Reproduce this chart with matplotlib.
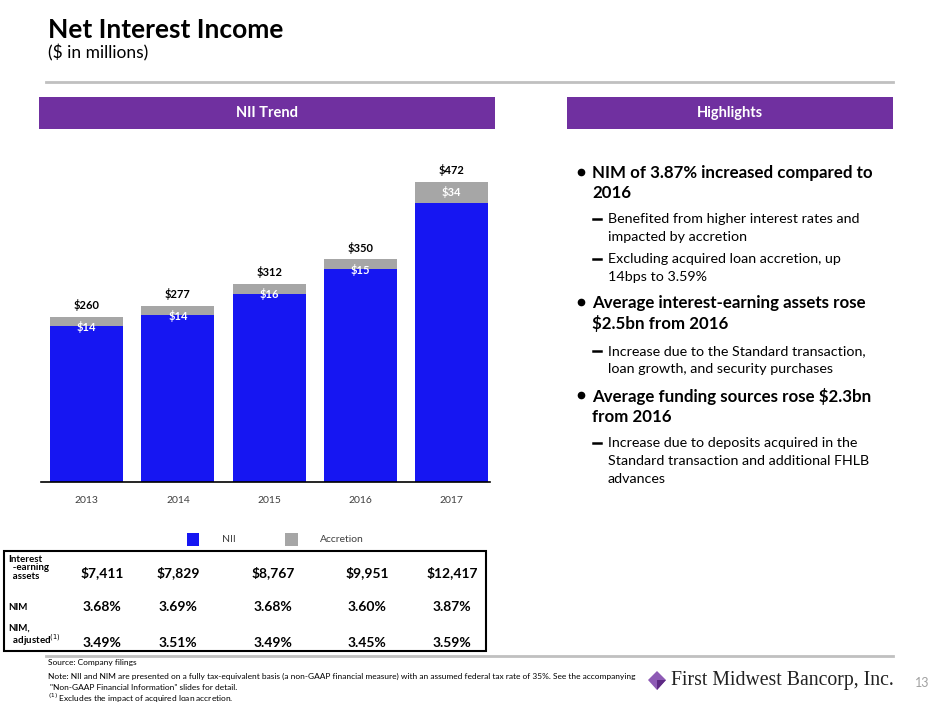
import matplotlib.pyplot as plt
from matplotlib.patches import Rectangle, Polygon
from matplotlib.lines import Line2D

plt.rcParams['font.family'] = ['Lato', 'DejaVu Sans']

# Data
years = ['2013', '2014', '2015', '2016', '2017']
accretion = [14, 14, 16, 15, 34]
totals = [260, 277, 312, 350, 472]
nii = [t - a for t, a in zip(totals, accretion)]

row_labels = ['Interest\n  -earning\n  assets', 'NIM', 'NIM,\n  adjusted$^{(1)}$']
earning_assets = ['$7,411', '$7,829', '$8,767', '$9,951', '$12,417']
nim = ['3.68%', '3.69%', '3.68%', '3.60%', '3.87%']
nim_adjusted = ['3.49%', '3.51%', '3.49%', '3.45%', '3.59%']

W, H = 940, 705
purple = '#7030A0'
blue = '#1616F2'
grey = '#A6A6A6'

fig = plt.figure(figsize=(W / 100, H / 100), dpi=100)


def fx(x):
    return x / W


def fy(y):
    return 1 - y / H


def hline(x0, x1, y, color, lw):
    fig.add_artist(Line2D([fx(x0), fx(x1)], [fy(y), fy(y)], color=color, lw=lw,
                          transform=fig.transFigure))


def box(x0, y0, x1, y1, **kw):
    fig.add_artist(Rectangle((fx(x0), fy(y1)), fx(x1) - fx(x0), fy(y0) - fy(y1),
                             transform=fig.transFigure, **kw))


# Header
fig.text(fx(48), fy(30), 'Net Interest Income', fontsize=19, fontweight='bold', va='center')
fig.text(fx(48), fy(53), '($ in millions)', fontsize=12.5, va='center')
hline(46, 893, 82, '#C0C0C0', 2)

box(39, 97, 495, 129, facecolor=purple, edgecolor='none')
fig.text(fx(267), fy(113), 'NII Trend', color='white', fontsize=10.5, fontweight='bold',
         ha='center', va='center')
box(567, 97, 893, 129, facecolor=purple, edgecolor='none')
fig.text(fx(730), fy(113), 'Highlights', color='white', fontsize=10.5, fontweight='bold',
         ha='center', va='center')

# Bar chart
ax = fig.add_axes([fx(41), fy(482), fx(490) - fx(41), fy(150) - fy(482)])
x = range(len(years))
ax.bar(x, nii, width=0.8, color=blue)
ax.bar(x, accretion, bottom=nii, width=0.8, color=grey)
ax.set_xlim(-0.5, 4.42)
ax.set_ylim(0, 522)
for i in x:
    ax.annotate('$' + str(totals[i]), (i, totals[i]), xytext=(0, 4), textcoords='offset points',
                ha='center', va='bottom', fontsize=8, fontweight='bold')
    ax.annotate('$' + str(accretion[i]), (i, totals[i]), xytext=(0, -7.5), textcoords='offset points',
                ha='center', va='center', fontsize=8, fontweight='bold', color='white')
ax.set_xticks(list(x))
ax.set_xticklabels(years, fontsize=7.5, color='#404040')
ax.tick_params(length=0, pad=10)
ax.set_yticks([])
for s in ['top', 'left', 'right']:
    ax.spines[s].set_visible(False)
ax.spines['bottom'].set_linewidth(1.2)

# Legend
box(187, 533, 199, 546, facecolor=blue, edgecolor='none')
fig.text(fx(222), fy(540), 'NII', fontsize=7.5, va='center', color='#404040')
box(285, 533, 298, 546, facecolor=grey, edgecolor='none')
fig.text(fx(320), fy(540), 'Accretion', fontsize=7.5, va='center', color='#404040')

# Table
hline(46, 893, 656, '#C0C0C0', 2)
box(4, 551, 486, 651, facecolor='white', edgecolor='black', lw=1.5)
col_x = [102, 178, 273, 367, 452]
row_y = [573, 607, 643]
label_y = [568, 607, 636]
for lbl, ly in zip(row_labels, label_y):
    fig.text(fx(8), fy(ly), lbl, fontsize=7, fontweight='bold', va='center', linespacing=0.95)
for vals, ry in zip([earning_assets, nim, nim_adjusted], row_y):
    for v, cx in zip(vals, col_x):
        fig.text(fx(cx), fy(ry), v, fontsize=10, fontweight='bold', ha='center', va='center')

# Highlights
bullets = [
    (172, 'NIM of 3.87% increased compared to\n2016', [
        (219, 'Benefited from higher interest rates and\nimpacted by accretion'),
        (259, 'Excluding acquired loan accretion, up\n14bps to 3.59%')]),
    (302, 'Average interest-earning assets rose\n$2.5bn from 2016', [
        (351, 'Increase due to the Standard transaction,\nloan growth, and security purchases')]),
    (395, 'Average funding sources rose $2.3bn\nfrom 2016', [
        (443, 'Increase due to deposits acquired in the\nStandard transaction and additional FHLB\nadvances')]),
]
for by, btxt, subs in bullets:
    fig.add_artist(Line2D([fx(581)], [fy(by)], marker='o', markersize=4.5, color='black',
                          transform=fig.transFigure))
    fig.text(fx(592), fy(by - 7), btxt, fontsize=12.2, fontweight='bold', va='top', linespacing=1.32)
    for sy, stxt in subs:
        hline(593, 601, sy, 'black', 1.8)
        fig.text(fx(608), fy(sy - 6), stxt, fontsize=10.3, va='top', linespacing=1.6)

# Footer
fig.text(fx(48), fy(663), 'Source: Company filings', fontsize=6, va='center')
fig.text(fx(48), fy(676), 'Note: NII and NIM are presented on a fully tax-equivalent basis (a non-GAAP financial '
         'measure) with an assumed federal tax rate of 35%. See the accompanying', fontsize=6, va='center')
fig.text(fx(50), fy(687), '"Non-GAAP Financial Information" slides for detail.', fontsize=6, va='center')
fig.text(fx(48), fy(698), '$^{(1)}$ Excludes the impact of acquired loan accretion.', fontsize=6, va='center')

# Logo
fig.add_artist(Polygon([(fx(657), fy(671)), (fx(666), fy(680)), (fx(657), fy(690)), (fx(648), fy(680))],
                       closed=True, transform=fig.transFigure, facecolor='#8E5BB5', edgecolor='none'))
fig.add_artist(Polygon([(fx(657), fy(680)), (fx(666), fy(680)), (fx(657), fy(690))],
                       closed=True, transform=fig.transFigure, facecolor='#5E2A84', edgecolor='none'))
fig.text(fx(671), fy(680), 'First Midwest Bancorp, Inc.', fontsize=14.2, family='Liberation Serif',
         va='center', color='#222222')
fig.text(fx(922), fy(683), '13', fontsize=9, color='#A0A0A0', ha='center', va='center')

fig.savefig('out.png', dpi=100)
